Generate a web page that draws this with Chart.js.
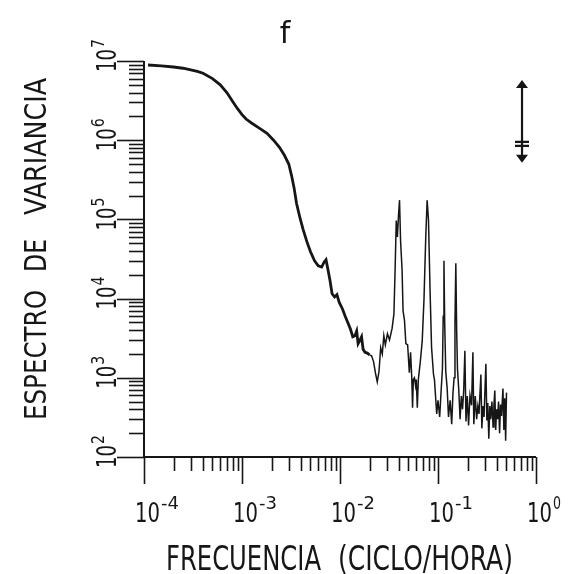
<!DOCTYPE html>
<html lang="es">
<head>
<meta charset="utf-8">
<script src="https://cdn.jsdelivr.net/npm/chart.js@4"></script>
<style>
html, body { margin: 0; padding: 0; background: #fff; }
#wrap { width: 569px; height: 574px; }
</style>
</head>
<body>
<div id="wrap"><canvas id="myChart" width="569" height="574"></canvas></div>
<script>
// spectrum (frequency in cycles/hour, variance spectrum)
const freq = [
  1.1e-4, 1.5e-4, 2.0e-4, 2.5e-4, 3.0e-4, 3.5e-4, 4.0e-4, 5.0e-4, 6.0e-4, 7.0e-4,
  8.0e-4, 9.0e-4, 1.0e-3, 1.1e-3, 1.25e-3, 1.5e-3, 1.8e-3, 2.1e-3, 2.4e-3, 2.7e-3,
  3.0e-3, 3.2e-3, 3.4e-3, 3.6e-3, 3.9e-3, 4.2e-3, 4.6e-3, 5.0e-3, 5.5e-3, 6.0e-3,
  6.5e-3, 6.9e-3, 7.2e-3, 7.5e-3, 7.9e-3, 8.3e-3, 8.8e-3, 9.3e-3, 9.8e-3, 1.06e-2,
  1.13e-2, 1.2e-2, 1.28e-2, 1.35e-2, 1.42e-2, 1.48e-2, 1.53e-2, 1.6e-2, 1.66e-2, 1.72e-2,
  1.8e-2, 1.9e-2, 2.0e-2, 2.1e-2, 2.2e-2, 2.3e-2, 2.4e-2, 2.5e-2, 2.6e-2, 2.7e-2,
  2.8e-2, 2.9e-2, 3.05e-2, 3.2e-2, 3.4e-2, 3.55e-2, 3.65e-2, 3.75e-2, 3.85e-2, 3.95e-2,
  4.05e-2, 4.15e-2, 4.3e-2, 4.4e-2, 4.55e-2, 4.7e-2, 4.9e-2, 5.1e-2, 5.25e-2, 5.4e-2,
  5.5e-2, 5.6e-2, 5.75e-2, 5.9e-2, 6.0e-2, 6.15e-2, 6.3e-2, 6.6e-2, 6.9e-2, 7.2e-2,
  7.5e-2, 7.75e-2, 8.0e-2, 8.3e-2, 8.6e-2, 9.0e-2, 9.2e-2, 9.7e-2, 1.0e-1, 1.04e-1,
  1.08e-1, 1.11e-1, 1.13e-1, 1.15e-1, 1.17e-1, 1.2e-1, 1.24e-1, 1.28e-1, 1.33e-1, 1.38e-1,
  1.42e-1, 1.46e-1, 1.49e-1, 1.52e-1, 1.55e-1, 1.58e-1, 1.63e-1, 1.68e-1, 1.73e-1, 1.78e-1,
  1.83e-1, 1.88e-1, 1.93e-1, 1.99e-1, 2.05e-1, 2.12e-1, 2.2e-1, 2.27e-1, 2.32e-1, 2.4e-1,
  2.48e-1, 2.55e-1, 2.62e-1, 2.74e-1, 2.8e-1, 2.88e-1, 2.95e-1, 3.08e-1, 3.15e-1, 3.22e-1,
  3.3e-1, 3.38e-1, 3.45e-1, 3.55e-1, 3.65e-1, 3.72e-1, 3.8e-1, 3.88e-1, 3.96e-1, 4.05e-1,
  4.15e-1, 4.25e-1, 4.35e-1, 4.45e-1, 4.6e-1, 4.7e-1, 4.8e-1, 4.9e-1, 5.0e-1
];
const spec = [
  8.9e6, 8.7e6, 8.4e6, 8.1e6, 7.7e6, 7.4e6, 7.0e6, 6.0e6, 5.0e6, 4.0e6,
  3.1e6, 2.5e6, 2.1e6, 1.85e6, 1.65e6, 1.42e6, 1.22e6, 1.0e6, 8.2e5, 6.5e5,
  5.0e5, 3.6e5, 2.5e5, 1.6e5, 1.05e5, 7.5e4, 5.2e4, 3.9e4, 3.0e4, 2.6e4,
  2.5e4, 2.9e4, 3.1e4, 2.4e4, 1.7e4, 1.15e4, 1.05e4, 1.12e4, 9.0e3, 7.4e3,
  6.0e3, 5.0e3, 4.1e3, 3.3e3, 3.4e3, 3.9e3, 2.7e3, 3.0e3, 3.3e3, 2.3e3,
  2.1e3, 2.05e3, 1.95e3, 1.9e3, 1.6e3, 1.15e3, 8.9e2, 1.2e3, 2.4e3, 2.0e3,
  3.4e3, 2.6e3, 3.6e3, 3.0e3, 4.2e3, 6.4e3, 2.3e4, 9.7e4, 6.0e4, 1.1e5,
  1.75e5, 5.4e4, 2.3e4, 7.0e3, 5.3e3, 2.7e3, 2.6e3, 1.16e3, 2.1e3, 1.0e3,
  4.2e2, 9.5e2, 1.0e3, 8.0e2, 9.5e2, 4.2e2, 9.5e2, 1.6e3, 2.9e3, 1.0e4,
  6.0e4, 1.74e5, 9.7e4, 1.26e4, 2.4e3, 1.1e3, 9.5e2, 3.5e2, 5.2e2, 3.2e2,
  7.4e2, 1.3e3, 6.0e3, 3.0e4, 5.0e3, 1.2e3, 7.4e2, 3.2e2, 5.2e2, 2.6e2,
  6.3e2, 1.0e3, 5.0e3, 2.8e4, 4.0e3, 1.3e3, 6.9e2, 3.0e2, 5.9e2, 4.0e2,
  7.0e2, 2.2e3, 2.8e2, 5.9e2, 2.5e2, 6.0e2, 4.5e2, 2.1e3, 2.6e2, 5.9e2,
  3.0e2, 4.4e2, 3.5e2, 1.1e3, 2.3e2, 4.4e2, 3.2e2, 1.5e3, 2.9e2, 4.8e2,
  1.7e2, 4.4e2, 3.0e2, 5.0e2, 2.4e2, 4.5e2, 6.9e2, 2.2e2, 4.0e2, 3.0e2,
  5.0e2, 2.0e2, 4.6e2, 3.3e2, 7.3e2, 2.2e2, 5.5e2, 1.6e2, 6.5e2
];
// axis decades and their labels
const xDecades = [-4, -3, -2, -1, 0];
const yDecades = [2, 3, 4, 5, 6, 7];
const xTickLabels = ['-4', '-3', '-2', '-1', '0'];
const yTickLabels = ['2', '3', '4', '5', '6', '7'];
const panelLabel = 'f';
const xTitleWords = ['FRECUENCIA', '(CICLO/HORA)'];
const yTitleWords = ['ESPECTRO', 'DE', 'VARIANCIA'];
// confidence bar (upper right)
const ciFreq = 0.72;
const ciTop = 5.75e6;
const ciMid = 9.1e5;
const ciBottom = 5.2e5;

const INK = '#161616';
const FONT = '"DejaVu Sans", sans-serif';

function fitText(ctx, text, x, y, size, width, rot) {
  ctx.save();
  ctx.font = size + 'px ' + FONT;
  const w = ctx.measureText(text).width;
  ctx.translate(x, y);
  if (rot) ctx.rotate(rot);
  ctx.scale(width / w, 1);
  ctx.textAlign = 'left';
  ctx.textBaseline = 'alphabetic';
  ctx.fillText(text, 0, 0);
  ctx.restore();
}

const axesPlugin = {
  id: 'plotterAxes',
  afterDraw(chart) {
    const ctx = chart.ctx;
    const xs = chart.scales.x, ys = chart.scales.y;
    const a = chart.chartArea;
    ctx.save();
    ctx.strokeStyle = INK;
    ctx.fillStyle = INK;
    ctx.lineWidth = 2;
    // axis lines
    ctx.beginPath();
    ctx.moveTo(a.left, a.top);
    ctx.lineTo(a.left, a.bottom);
    ctx.lineTo(a.right, a.bottom);
    ctx.stroke();
    // x ticks
    ctx.lineWidth = 1.6;
    xDecades.forEach((d, i) => {
      const m = (i === xDecades.length - 1) ? 1 : 9;
      for (let k = 1; k <= m; k++) {
        const px = Math.round(xs.getPixelForValue(k * Math.pow(10, d))) + 0.5;
        const len = k === 1 ? 27 : 14;
        ctx.beginPath();
        ctx.moveTo(px, a.bottom);
        ctx.lineTo(px, a.bottom + len);
        ctx.stroke();
      }
    });
    // y ticks
    yDecades.forEach((d, i) => {
      const m = (i === yDecades.length - 1) ? 1 : 9;
      for (let k = 1; k <= m; k++) {
        const py = Math.round(ys.getPixelForValue(k * Math.pow(10, d))) + 0.5;
        const len = k === 1 ? 27 : 15;
        ctx.beginPath();
        ctx.moveTo(a.left, py);
        ctx.lineTo(a.left - len, py);
        ctx.stroke();
      }
    });
    // x tick labels
    xDecades.forEach((d, i) => {
      const px = xs.getPixelForValue(Math.pow(10, d));
      fitText(ctx, '10', px - 9, 522, 26, 25);
      const sw = xTickLabels[i].length > 1 ? 18 : 8;
      fitText(ctx, xTickLabels[i], px + 17, 509, 17, sw);
    });
    // y tick labels (rotated)
    yDecades.forEach((d, i) => {
      const py = ys.getPixelForValue(Math.pow(10, d));
      ctx.save();
      ctx.translate(116, py + 11);
      ctx.rotate(-Math.PI / 2);
      fitText(ctx, '10', 0, 0, 27, 23);
      fitText(ctx, yTickLabels[i], 24, -12, 17, 9);
      ctx.restore();
    });
    // axis titles
    fitText(ctx, xTitleWords[0], 166, 570, 34, 155);
    fitText(ctx, xTitleWords[1], 338, 570, 34, 175);
    fitText(ctx, yTitleWords[0], 46, 420, 30, 130, -Math.PI / 2);
    fitText(ctx, yTitleWords[1], 46, 272, 30, 33, -Math.PI / 2);
    fitText(ctx, yTitleWords[2], 46, 215, 30, 137, -Math.PI / 2);
    // panel label
    ctx.font = '30px ' + FONT;
    ctx.textAlign = 'center';
    ctx.fillText(panelLabel, 285, 43);
    // confidence bar
    const cx = xs.getPixelForValue(ciFreq);
    const t = ys.getPixelForValue(ciTop);
    const b = ys.getPixelForValue(ciBottom);
    const mid = ys.getPixelForValue(ciMid);
    ctx.lineWidth = 2.2;
    ctx.beginPath();
    ctx.moveTo(cx, t + 2);
    ctx.lineTo(cx, b - 2);
    ctx.stroke();
    ctx.beginPath();
    ctx.moveTo(cx, t);
    ctx.lineTo(cx - 6, t + 8);
    ctx.lineTo(cx + 6, t + 8);
    ctx.closePath();
    ctx.fill();
    ctx.beginPath();
    ctx.moveTo(cx, b);
    ctx.lineTo(cx - 6, b - 8);
    ctx.lineTo(cx + 6, b - 8);
    ctx.closePath();
    ctx.fill();
    ctx.beginPath();
    ctx.moveTo(cx - 7, mid - 1.5);
    ctx.lineTo(cx + 7, mid - 1.5);
    ctx.moveTo(cx - 7, mid + 2.5);
    ctx.lineTo(cx + 7, mid + 2.5);
    ctx.stroke();
    ctx.restore();
  }
};

const points = freq.map((f, i) => ({ x: f, y: spec[i] }));

const config = {
  type: 'line',
  data: {
    datasets: [{
      data: points,
      borderColor: INK,
      borderWidth: 1.5,
      pointRadius: 0,
      tension: 0,
      fill: false,
      segment: {
        borderWidth: c => c.p0.parsed.x < 0.02 ? 2.8 : 1.5
      }
    }]
  },
  options: {
    responsive: false,
    animation: false,
    layout: { padding: { left: 144, top: 61, right: 33, bottom: 117 } },
    plugins: { legend: { display: false }, tooltip: { enabled: false } },
    scales: {
      x: { type: 'logarithmic', min: 1e-4, max: 1, display: false },
      y: { type: 'logarithmic', min: 1e2, max: 1e7, display: false }
    }
  },
  plugins: [axesPlugin]
};

const myChart = new Chart(document.getElementById('myChart'), config);
</script>
</body>
</html>
